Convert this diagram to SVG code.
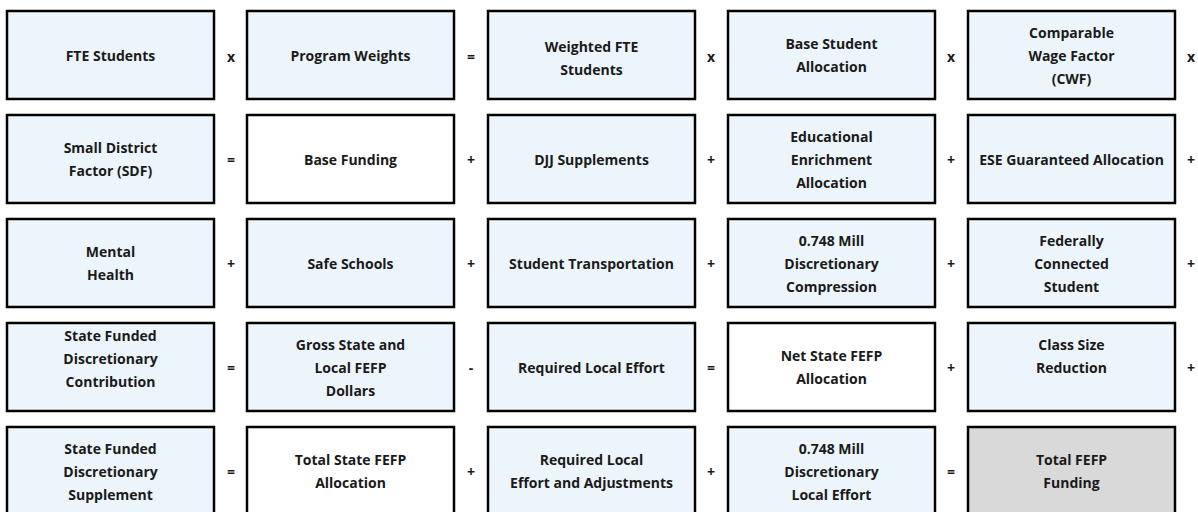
<svg xmlns="http://www.w3.org/2000/svg" width="1198" height="512" viewBox="0 0 1198 512">
<style>
.b{fill:#EDF5FC;stroke:#000;stroke-width:2.5}
.w{fill:#FFFFFF;stroke:#000;stroke-width:2.5}
.g{fill:#D9D9D9;stroke:#000;stroke-width:2.5}
text{font-family:"Open Sans","Liberation Sans",sans-serif;font-weight:700;font-size:14px;fill:#1a1a1a;text-anchor:middle;dominant-baseline:central}
</style>
<rect width="1198" height="512" fill="#fff"/>
<g id="r1">
<g id="n11"><rect class="b" x="7" y="11" width="207" height="88"/><text x="110.5" y="55">FTE Students</text></g>
<g id="n12"><rect class="b" x="247" y="11" width="207" height="88"/><text x="350.5" y="55">Program Weights</text></g>
<g id="n13"><rect class="b" x="488" y="11" width="207" height="88"/><text x="591.5" y="46">Weighted FTE</text><text x="591.5" y="69">Students</text></g>
<g id="n14"><rect class="b" x="728" y="11" width="207" height="88"/><text x="831.5" y="43">Base Student</text><text x="831.5" y="66">Allocation</text></g>
<g id="n15"><rect class="b" x="968" y="11" width="207" height="88"/><text x="1071.5" y="32">Comparable</text><text x="1071.5" y="55">Wage Factor</text><text x="1071.5" y="78">(CWF)</text></g>
</g>
<g id="r2">
<g id="n21"><rect class="b" x="7" y="115" width="207" height="88"/><text x="110.5" y="147">Small District</text><text x="110.5" y="170">Factor (SDF)</text></g>
<g id="n22"><rect class="w" x="247" y="115" width="207" height="88"/><text x="350.5" y="159">Base Funding</text></g>
<g id="n23"><rect class="b" x="488" y="115" width="207" height="88"/><text x="591.5" y="159">DJJ Supplements</text></g>
<g id="n24"><rect class="b" x="728" y="115" width="207" height="88"/><text x="831.5" y="136">Educational</text><text x="831.5" y="159">Enrichment</text><text x="831.5" y="182">Allocation</text></g>
<g id="n25"><rect class="b" x="968" y="115" width="207" height="88"/><text x="1071.5" y="159">ESE Guaranteed Allocation</text></g>
</g>
<g id="r3">
<g id="n31"><rect class="b" x="7" y="219" width="207" height="88"/><text x="110.5" y="251">Mental</text><text x="110.5" y="274">Health</text></g>
<g id="n32"><rect class="b" x="247" y="219" width="207" height="88"/><text x="350.5" y="263">Safe Schools</text></g>
<g id="n33"><rect class="b" x="488" y="219" width="207" height="88"/><text x="591.5" y="263">Student Transportation</text></g>
<g id="n34"><rect class="b" x="728" y="219" width="207" height="88"/><text x="831.5" y="240">0.748 Mill</text><text x="831.5" y="263">Discretionary</text><text x="831.5" y="286">Compression</text></g>
<g id="n35"><rect class="b" x="968" y="219" width="207" height="88"/><text x="1071.5" y="240">Federally</text><text x="1071.5" y="263">Connected</text><text x="1071.5" y="286">Student</text></g>
</g>
<g id="r4">
<g id="n41"><rect class="b" x="7" y="323" width="207" height="88"/><text x="110.5" y="335">State Funded</text><text x="110.5" y="358">Discretionary</text><text x="110.5" y="381">Contribution</text></g>
<g id="n42"><rect class="b" x="247" y="323" width="207" height="88"/><text x="350.5" y="344">Gross State and</text><text x="350.5" y="367">Local FEFP</text><text x="350.5" y="390">Dollars</text></g>
<g id="n43"><rect class="b" x="488" y="323" width="207" height="88"/><text x="591.5" y="367">Required Local Effort</text></g>
<g id="n44"><rect class="w" x="728" y="323" width="207" height="88"/><text x="831.5" y="355">Net State FEFP</text><text x="831.5" y="378">Allocation</text></g>
<g id="n45"><rect class="b" x="968" y="323" width="207" height="88"/><text x="1071.5" y="344">Class Size</text><text x="1071.5" y="367">Reduction</text></g>
</g>
<g id="r5">
<g id="n51"><rect class="b" x="7" y="427" width="207" height="92"/><text x="110.5" y="448">State Funded</text><text x="110.5" y="471">Discretionary</text><text x="110.5" y="494">Supplement</text></g>
<g id="n52"><rect class="w" x="247" y="427" width="207" height="92"/><text x="350.5" y="459">Total State FEFP</text><text x="350.5" y="482">Allocation</text></g>
<g id="n53"><rect class="b" x="488" y="427" width="207" height="92"/><text x="591.5" y="459">Required Local</text><text x="591.5" y="482">Effort and Adjustments</text></g>
<g id="n54"><rect class="b" x="728" y="427" width="207" height="92"/><text x="831.5" y="448">0.748 Mill</text><text x="831.5" y="471">Discretionary</text><text x="831.5" y="494">Local Effort</text></g>
<g id="n55"><rect class="g" x="968" y="427" width="207" height="92"/><text x="1071.5" y="459">Total FEFP</text><text x="1071.5" y="482">Funding</text></g>
</g>
<g id="connectors">
<text x="231" y="56">x</text><text x="471" y="56">=</text><text x="711" y="56">x</text><text x="951" y="56">x</text><text x="1191" y="56">x</text>
<text x="231" y="159">=</text><text x="471" y="159">+</text><text x="711" y="159">+</text><text x="951" y="159">+</text><text x="1191" y="159">+</text>
<text x="231" y="263">+</text><text x="471" y="263">+</text><text x="711" y="263">+</text><text x="951" y="263">+</text><text x="1191" y="263">+</text>
<text x="231" y="367">=</text><text x="471" y="367">-</text><text x="711" y="367">=</text><text x="951" y="367">+</text><text x="1191" y="367">+</text>
<text x="231" y="471">=</text><text x="471" y="471">+</text><text x="711" y="471">+</text><text x="951" y="471">=</text>
</g>
</svg>
